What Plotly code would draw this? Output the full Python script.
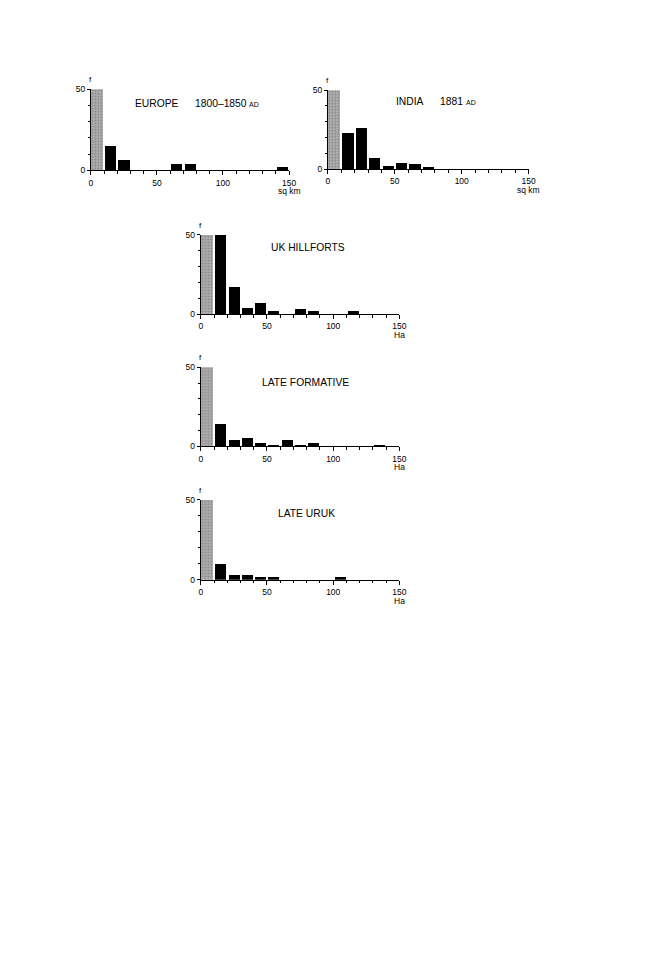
import plotly.graph_objects as go

# ---------------- data ----------------
bin_starts = [10, 20, 30, 40, 50, 60, 70, 80, 90, 100, 110, 120, 130, 140]
europe_counts = [15, 6, 0, 0, 0, 4, 4, 0, 0, 0, 0, 0, 0, 2]
india_counts = [23, 26, 7, 2, 4, 3, 1, 0, 0, 0, 0, 0, 0, 0]
uk_counts = [50, 17, 4, 7, 2, 0, 3, 2, 0, 0, 2, 0, 0, 0]
formative_counts = [14, 4, 5, 2, 1, 4, 1, 2, 0, 0, 0, 0, 1, 0]
uruk_counts = [10, 3, 3, 1.5, 1.5, 0, 0, 0, 0, 1.5, 0, 0, 0, 0]
first_bin_start = [0]
first_bin_counts = [50]  # truncated at the top of every panel
x_ticks = [0, 50, 100, 150]
y_ticks = [0, 50]

OFF = 8  # page body margin
W, H = 648 - OFF, 972 - OFF
FONT = "Liberation Sans, Arial, sans-serif"


def px(v):
    return (v - OFF) / W


def py(v):
    return 1 - (v - OFF) / H


# panel geometry in window pixels: (x at 0, x at 150, y at 0, y at 50)
panels = [
    dict(counts=europe_counts, unit="sq km", geo=(90, 291, 167, 85)),
    dict(counts=india_counts, unit="sq km", geo=(330.5, 534, 165.7, 86)),
    dict(counts=uk_counts, unit="Ha", geo=(201.5, 403, 312.3, 232.3)),
    dict(counts=formative_counts, unit="Ha", geo=(201.5, 403, 446, 366)),
    dict(counts=uruk_counts, unit="Ha", geo=(201.5, 403, 580.7, 500)),
]

fig = go.Figure()
annotations = []
layout = {}

for i, p in enumerate(panels, start=1):
    sfx = "" if i == 1 else str(i)
    xa, ya = "x" + sfx, "y" + sfx
    x0, x1, y0, y1 = p["geo"]
    fig.add_trace(go.Bar(
        x=[s + 4.5 for s in first_bin_start], y=first_bin_counts, width=9,
        marker=dict(color="#ababab", line=dict(width=0),
                    pattern=dict(shape=".", fgcolor="#5a5a5a", bgcolor="#b0b0b0",
                                 size=3, solidity=0.3)),
        xaxis=xa, yaxis=ya, showlegend=False, hoverinfo="skip"))
    fig.add_trace(go.Bar(
        x=[s + 5 for s in bin_starts], y=p["counts"], width=8.4,
        marker=dict(color="black", line=dict(width=0)),
        xaxis=xa, yaxis=ya, showlegend=False))
    layout["xaxis" + sfx] = dict(
        domain=[px(x0), px(x1)], anchor=ya, range=[0, 150],
        showline=True, linecolor="black", linewidth=1, showgrid=False, zeroline=False,
        tickvals=x_ticks, ticks="outside", ticklen=4, tickcolor="black", tickwidth=1,
        tickfont=dict(family=FONT, size=8.5, color="black"),
        minor=dict(dtick=10, tick0=0, ticks="outside", ticklen=2.5, tickcolor="black"),
        fixedrange=True)
    layout["yaxis" + sfx] = dict(
        domain=[py(y0), py(y1)], anchor=xa, range=[0, 50],
        showline=True, linecolor="black", linewidth=1, showgrid=False, zeroline=False,
        tickvals=y_ticks, ticks="outside", ticklen=3, tickcolor="black", tickwidth=1,
        tickfont=dict(family=FONT, size=8.5, color="black"),
        minor=dict(dtick=10, tick0=0, ticks="outside", ticklen=2, tickcolor="black"),
        fixedrange=True)
    annotations.append(dict(text="f", xref=xa, x=0, yref="paper", y=py(y1 - 10),
                            xanchor="center", yanchor="middle", showarrow=False,
                            font=dict(family=FONT, size=8, color="black")))
    annotations.append(dict(text=p["unit"], xref=xa, x=150, yref="paper",
                            y=py(y0 + 21), xanchor="center", yanchor="middle",
                            showarrow=False, font=dict(family=FONT, size=8.5, color="black")))


def txt(s, x, y, size=10.3, anchor="left"):
    annotations.append(dict(text=s, xref="paper", yref="paper", x=px(x), y=py(y),
                            xanchor=anchor, yanchor="middle", showarrow=False,
                            font=dict(family=FONT, size=size, color="black")))


txt("EUROPE", 132.3, 99)
txt("1800–1850", 193.3, 99)
txt("AD", 248.3, 100, size=7)
txt("INDIA", 397.3, 97.3)
txt("1881", 441.7, 97.3)
txt("AD", 468.3, 98.3, size=7)
txt("UK HILLFORTS", 310.5, 245, anchor="center")
txt("LATE FORMATIVE", 308, 381.7, anchor="center")
txt("LATE URUK", 309, 513.3, anchor="center")

fig.update_layout(
    width=W, height=H, margin=dict(l=0, r=0, t=0, b=0),
    paper_bgcolor="white", plot_bgcolor="white", bargap=0,
    annotations=annotations, **layout)

fig.write_html("out.html")
